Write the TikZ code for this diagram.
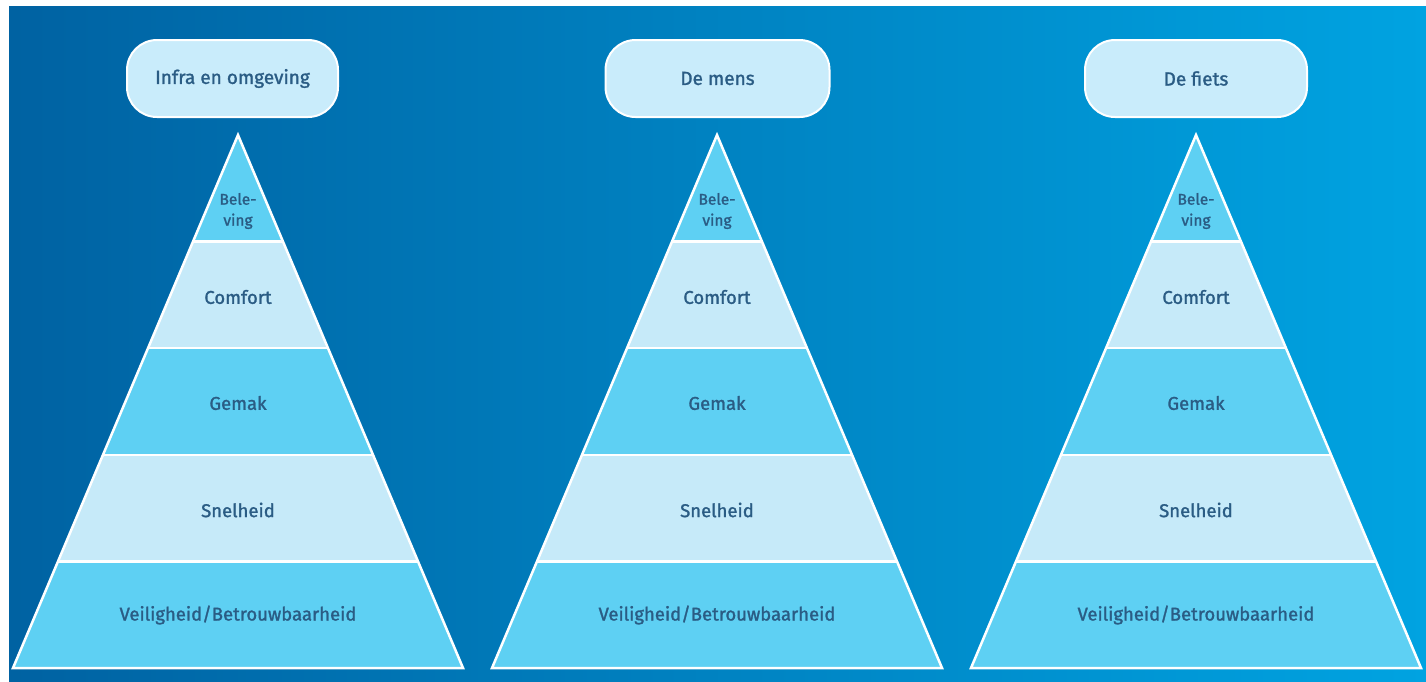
\documentclass[tikz,border=0pt]{standalone}
\usepackage{fontspec}
\setmainfont{Fira Sans}[FakeBold=1.4]
\usetikzlibrary{positioning}
\definecolor{bgleft}{HTML}{0062A2}
\definecolor{bgright}{HTML}{00A3E1}
\definecolor{cyanband}{HTML}{5ED0F3}
\definecolor{lightband}{HTML}{C6EAF9}
\definecolor{boxfill}{HTML}{C9ECFB}
\definecolor{txt}{HTML}{2A5C84}
\tikzset{
  headbox/.style={draw=white, line width=2pt, fill=boxfill, rounded corners=30pt, minimum height=77pt, text=txt, font=\fontsize{19}{22}\selectfont, inner sep=0pt},
  bandtext/.style={text=txt, font=\fontsize{18.5}{22}\selectfont, align=center},
  smalltext/.style={text=txt, font=\fontsize{15.5}{21}\selectfont, align=center},
  divline/.style={white, line width=2.5pt},
  outline/.style={draw=white, line width=2.5pt, line join=miter},
}
\newcommand{\pyr}[2]{%
  % #1 centre x, #2 prefix
  \foreach \k/\col in {0/cyanband,1/lightband,2/cyanband,3/lightband,4/cyanband}{%
    \pgfmathsetmacro{\ya}{135+\k*106.6}%
    \pgfmathsetmacro{\yb}{135+(\k+1)*106.6}%
    \pgfmathsetmacro{\wa}{(\ya-135)/533*225}%
    \pgfmathsetmacro{\wb}{(\yb-135)/533*225}%
    \fill[\col] (#1-\wa,\ya) -- (#1+\wa,\ya) -- (#1+\wb,\yb) -- (#1-\wb,\yb) -- cycle;
  }
  \foreach \k in {1,2,3,4}{%
    \pgfmathsetmacro{\ya}{135+\k*106.6}%
    \pgfmathsetmacro{\wa}{(\ya-135)/533*225}%
    \draw[divline] (#1-\wa,\ya) -- (#1+\wa,\ya);
  }
  \coordinate (#2apex) at (#1,135);
  \coordinate (#2bl) at (#1-225,668);
  \coordinate (#2br) at (#1+225,668);
  \draw[outline] (#2apex) -- (#2br) -- (#2bl) -- cycle;
  \node[smalltext] (#2bel) at (#1,211) {Bele-\\ving};
  \node[bandtext] (#2com) at (#1,297) {Comfort};
  \node[bandtext] (#2gem) at (#1,403) {Gemak};
  \node[bandtext] (#2sne) at (#1,510) {Snelheid};
  \node[bandtext] (#2vei) at (#1,615) {Veiligheid/Betrouwbaarheid};
}
\begin{document}
\begin{tikzpicture}[x=1pt,y=-1pt]
\useasboundingbox (0,0) rectangle (1426,681);
\fill[white] (0,0) rectangle (1426,681);
\shade[left color=bgleft, right color=bgright] (9,6) rectangle (1426,681);
\pyr{238}{a}
\pyr{717}{b}
\pyr{1196}{c}
\node[headbox, minimum width=211pt] (h1) at (232.5,78.5) {Infra en omgeving};
\node[headbox, minimum width=224pt] (h2) at (717.5,78.5) {De mens};
\node[headbox, minimum width=222pt] (h3) at (1196,78.5) {De fiets};
\end{tikzpicture}
\end{document}
